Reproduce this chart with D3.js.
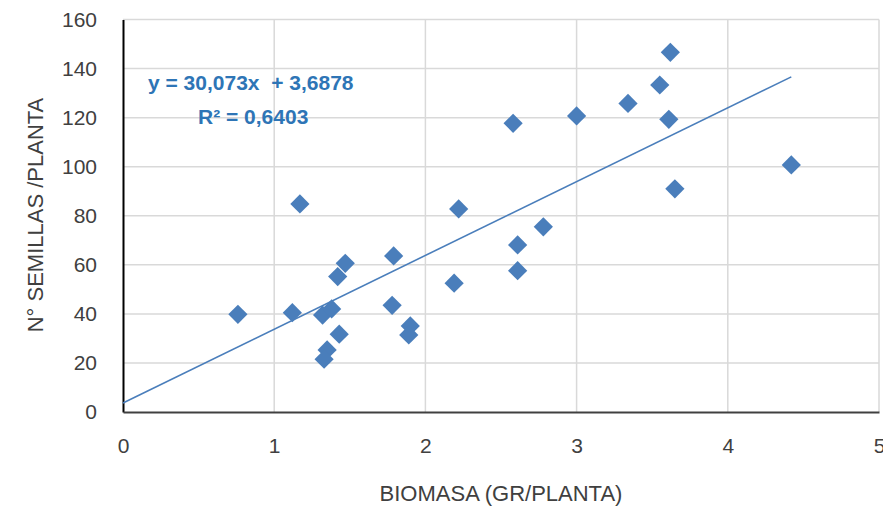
<!DOCTYPE html>
<html>
<head>
<meta charset="utf-8">
<script src="https://cdn.jsdelivr.net/npm/d3@7"></script>
<style>
  body { margin: 0; background: #fff; }
  text { font-family: "Liberation Sans", Arial, sans-serif; }
</style>
</head>
<body>
<svg id="chart" width="883" height="509"></svg>
<script>
// biomasa (gr/planta) vs n° semillas/planta
const biomasa = [3.62, 3.55, 3.34, 3.00, 2.58, 3.61, 4.42, 3.65,
  1.17, 2.22, 1.79, 1.47, 1.42, 2.19, 0.76, 1.12, 1.32, 1.38, 1.78,
  1.90, 1.89, 1.43, 1.35, 1.33, 2.78, 2.61, 2.61]
const semillas = [146.6, 133.3, 125.8, 120.7, 117.7, 119.3, 100.7, 91.0,
  84.8, 82.8, 63.6, 60.6, 55.2, 52.5, 39.8, 40.5, 39.5, 42.0, 43.5,
  35.1, 31.4, 31.7, 25.3, 21.5, 75.5, 68.1, 57.6]
const xTicks = [0, 1, 2, 3, 4, 5]
const yTicks = [0, 20, 40, 60, 80, 100, 120, 140, 160]
const slope = 30.073, intercept = 3.6878
const eqLabel = 'y = 30,073x  + 3,6878'
const r2Label = 'R² = 0,6403'

const svg = d3.select('#chart')
const m = { left: 123, right: 879, top: 19.5, bottom: 412 }
const blue = '#4a7ebb'

const x = d3.scaleLinear().domain([0, 5]).range([m.left, m.right])
const y = d3.scaleLinear().domain([0, 160]).range([m.bottom, m.top])

// grid
svg.append('g').selectAll('line.gy').data(yTicks.slice(1)).enter()
  .append('line').attr('class', 'gy')
  .attr('x1', m.left).attr('x2', m.right)
  .attr('y1', d => y(d)).attr('y2', d => y(d))
  .attr('stroke', '#d9d9d9').attr('stroke-width', 1.5)
svg.append('g').selectAll('line.gx').data(xTicks.slice(1)).enter()
  .append('line').attr('class', 'gx')
  .attr('y1', m.top).attr('y2', m.bottom)
  .attr('x1', d => x(d)).attr('x2', d => x(d))
  .attr('stroke', '#d9d9d9').attr('stroke-width', 1.5)

// axes
const yAxis = svg.append('g').attr('transform', `translate(${m.left},0)`)
  .call(d3.axisLeft(y).tickValues(yTicks).tickFormat(d3.format('d')).tickSize(0).tickPadding(26))
yAxis.select('.domain').attr('stroke', '#000').attr('stroke-width', 2)
yAxis.selectAll('text').attr('font-size', 21).attr('fill', '#404040')
  .attr('font-family', '"Liberation Sans", Arial, sans-serif')

const xAxis = svg.append('g').attr('transform', `translate(0,${m.bottom})`)
  .call(d3.axisBottom(x).tickValues(xTicks).tickFormat(d3.format('d')).tickSize(0).tickPadding(26))
xAxis.select('.domain').attr('stroke', '#404040').attr('stroke-width', 2)
xAxis.selectAll('text').attr('font-size', 21).attr('fill', '#404040')
  .attr('font-family', '"Liberation Sans", Arial, sans-serif')

// trendline
const xMax = d3.max(biomasa)
svg.append('line')
  .attr('x1', x(0)).attr('y1', y(intercept))
  .attr('x2', x(xMax)).attr('y2', y(slope * xMax + intercept))
  .attr('stroke', blue).attr('stroke-width', 1.6)

// points
const diamond = d3.symbol().type(d3.symbolSquare).size(185)
svg.append('g').selectAll('path').data(biomasa).enter()
  .append('path')
  .attr('d', diamond)
  .attr('transform', (d, i) => `translate(${x(d)},${y(semillas[i])}) rotate(45)`)
  .attr('fill', blue)

// equation
svg.append('text').attr('x', 148).attr('y', 90)
  .attr('font-size', 21).attr('font-weight', 'bold').attr('fill', '#2e75b6')
  .style('white-space', 'pre').text(eqLabel)
svg.append('text').attr('x', 198).attr('y', 124)
  .attr('font-size', 21).attr('font-weight', 'bold').attr('fill', '#2e75b6')
  .text(r2Label)

// axis titles
svg.append('text').attr('x', (m.left + m.right) / 2).attr('y', 501)
  .attr('text-anchor', 'middle').attr('font-size', 22).attr('fill', '#404040')
  .text('BIOMASA (GR/PLANTA)')
svg.append('text').attr('transform', 'translate(43,215) rotate(-90)')
  .attr('text-anchor', 'middle').attr('font-size', 22).attr('fill', '#404040')
  .text('N° SEMILLAS /PLANTA')
</script>
</body>
</html>
